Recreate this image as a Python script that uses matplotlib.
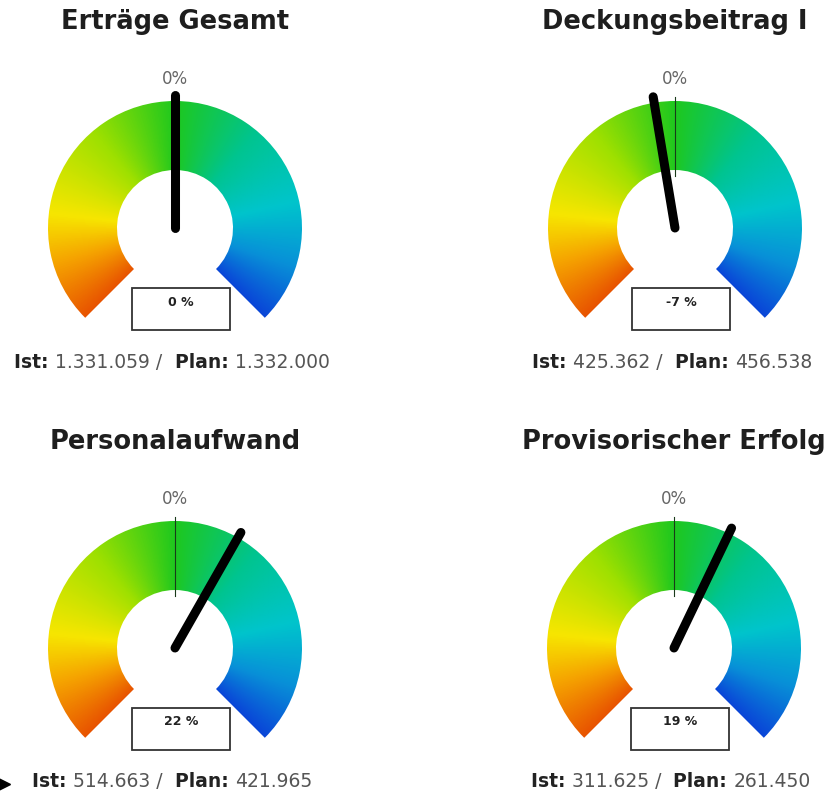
import numpy as np
import matplotlib.pyplot as plt
from matplotlib.patches import Wedge, Rectangle
from matplotlib.colors import LinearSegmentedColormap
from matplotlib.offsetbox import TextArea, HPacker, AnnotationBbox

titles = ["Erträge Gesamt", "Deckungsbeitrag I", "Personalaufwand", "Provisorischer Erfolg"]
ist = [1331059, 425362, 514663, 311625]
plan = [1332000, 456538, 421965, 261450]

W, H = 829, 791
centers = [(175, 228), (675, 228), (175, 648), (674, 648)]
R_OUT, R_IN = 127, 58
DEG_PER_PCT = 1.35

gauge_cmap = LinearSegmentedColormap.from_list("gauge", [
    (0.00, "#e85400"),
    (0.10, "#f5a000"),
    (0.19, "#f7e600"),
    (0.35, "#9ee000"),
    (0.50, "#1ec81e"),
    (0.65, "#00c490"),
    (0.79, "#00c4cc"),
    (0.90, "#0890d8"),
    (1.00, "#0a46d7"),
])


def fmt(v):
    return f"{v:,}".replace(",", ".")


fig = plt.figure(figsize=(W / 100, H / 100), dpi=100)
ax = fig.add_axes([0, 0, 1, 1])
ax.set_xlim(0, W)
ax.set_ylim(0, H)
ax.set_aspect("equal")
ax.axis("off")

for i, title in enumerate(titles):
    cx, py = centers[i]
    cy = H - py
    pct = round((ist[i] / plan[i] - 1) * 100)

    # Farbverlauf um den Bogen
    n = 300
    xs = np.linspace(cx - R_OUT, cx + R_OUT, n)
    ys = np.linspace(cy - R_OUT, cy + R_OUT, n)
    X, Y = np.meshgrid(xs, ys)
    theta = np.degrees(np.arctan2(Y - cy, X - cx))
    theta[theta < -90] += 360
    t = np.clip((225 - theta) / 270, 0, 1)
    img = gauge_cmap(t)
    wedge = Wedge((cx, cy), R_OUT, -45, 225, width=R_OUT - R_IN,
                  facecolor="none", edgecolor="none")
    ax.add_patch(wedge)
    im = ax.imshow(img, extent=[cx - R_OUT, cx + R_OUT, cy - R_OUT, cy + R_OUT],
                   origin="lower", interpolation="bilinear", zorder=1)
    im.set_clip_path(wedge)

    # Nullmarke
    ax.plot([cx, cx], [cy + 52, cy + 131], color="#1a3a1a", lw=0.8, zorder=2)
    ax.text(cx, cy + 149, "0%", ha="center", va="center", fontsize=12, color="#666666")

    # Zeiger
    ang = np.radians(90 - pct * DEG_PER_PCT)
    ax.plot([cx, cx + 133 * np.cos(ang)], [cy, cy + 133 * np.sin(ang)],
            color="black", lw=6.5, solid_capstyle="round", zorder=3)

    # Kasten mit Prozentwert
    ax.add_patch(Rectangle((cx - 43, cy - 102), 98, 42, facecolor="white",
                           edgecolor="#333333", lw=1.3, zorder=2))
    ax.text(cx + 6, cy - 74, f"{pct} %", ha="center", va="center",
            fontsize=9, fontweight="bold", color="#222222", zorder=3)

    ax.text(cx, cy + 206, title, ha="center", va="center", fontsize=18.5,
            fontweight="bold", color="#1e1e1e")

    parts = [
        TextArea("Ist: ", textprops=dict(fontsize=13.5, fontweight="bold", color="#222222")),
        TextArea(fmt(ist[i]) + " /  ", textprops=dict(fontsize=13.5, color="#555555")),
        TextArea("Plan: ", textprops=dict(fontsize=13.5, fontweight="bold", color="#222222")),
        TextArea(fmt(plan[i]), textprops=dict(fontsize=13.5, color="#555555")),
    ]
    box = HPacker(children=parts, align="baseline", pad=0, sep=0)
    ab = AnnotationBbox(box, (cx - 3, cy - 134), frameon=False, box_alignment=(0.5, 0.5), pad=0)
    ax.add_artist(ab)

ax.plot([4], [H - 784], marker=">", color="black", markersize=9)

fig.savefig("out.png", dpi=100, facecolor="white")
